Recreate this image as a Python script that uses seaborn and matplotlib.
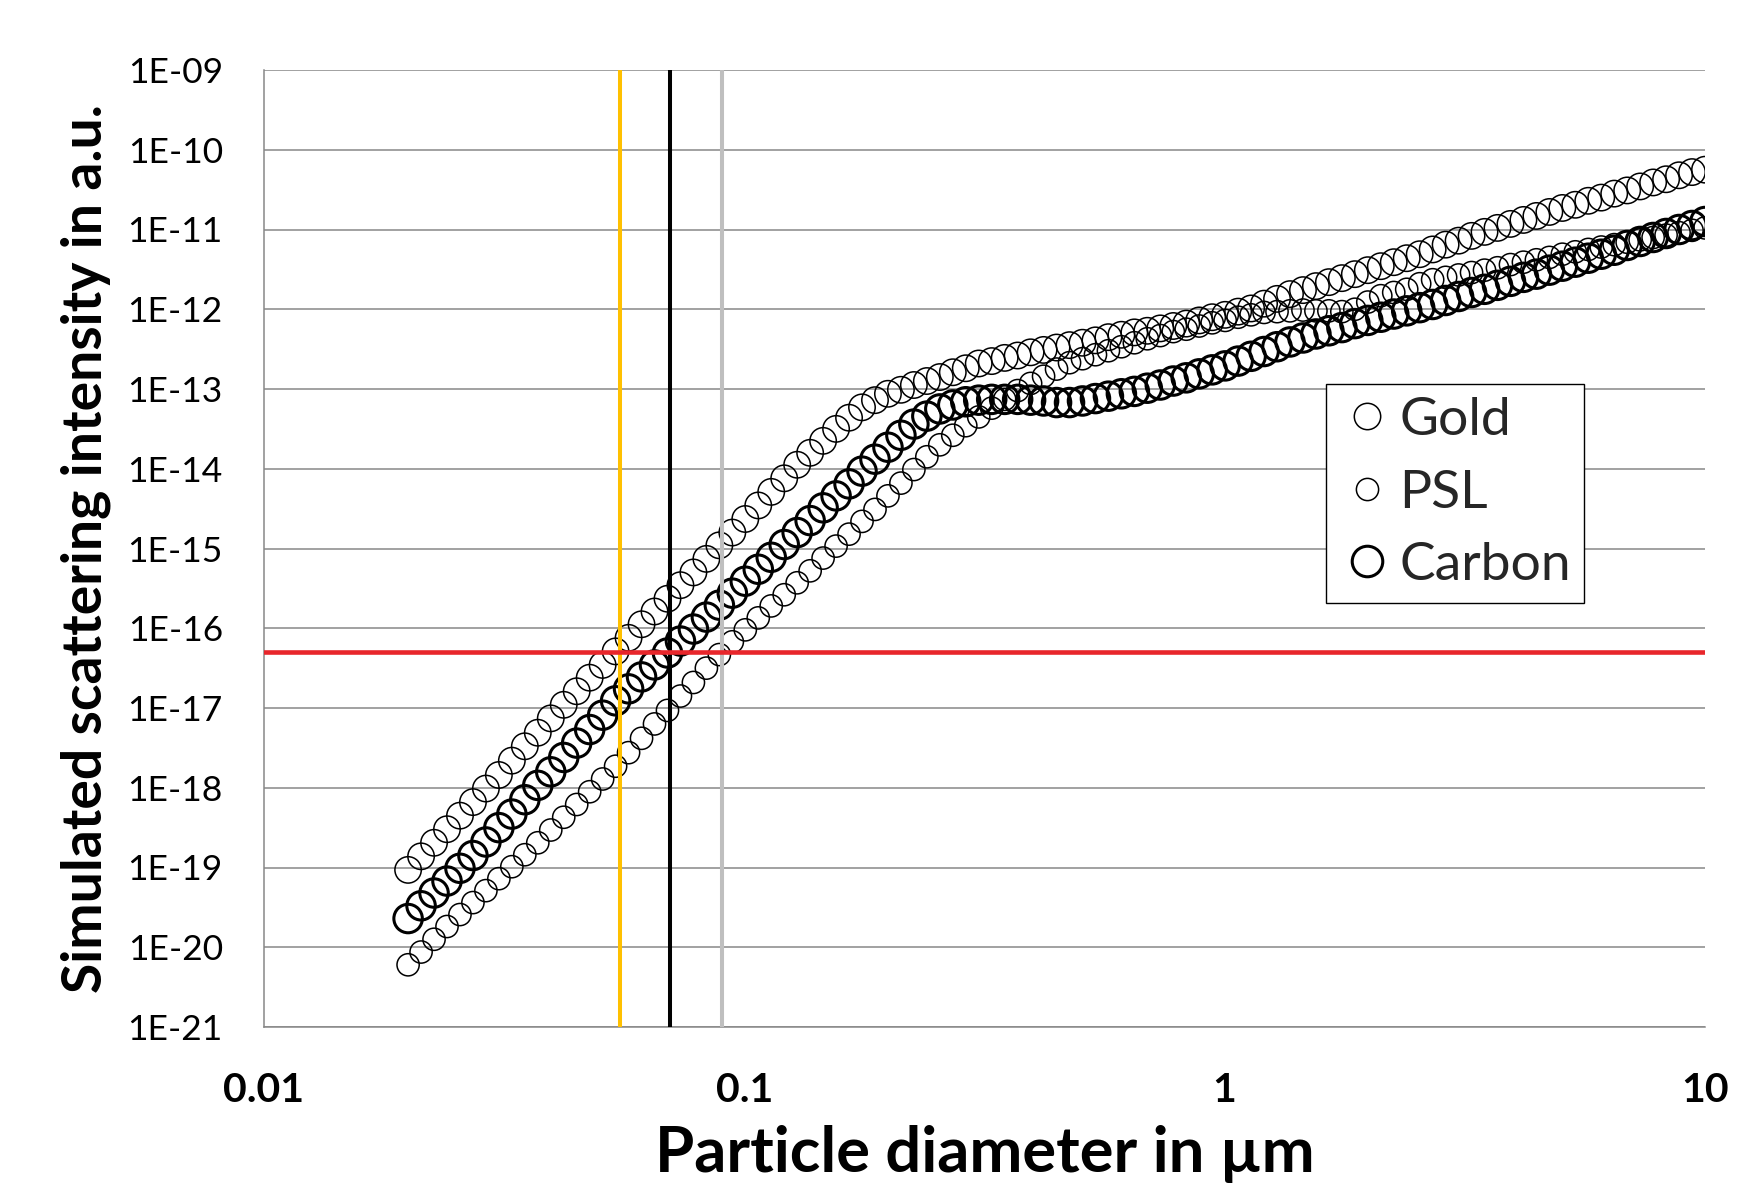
import numpy as np
import pandas as pd
import matplotlib
matplotlib.use("Agg")
import matplotlib.pyplot as plt
import seaborn as sns
from matplotlib.lines import Line2D
from matplotlib.ticker import FixedLocator, NullFormatter, NullLocator

# ---------------- data ----------------
log10_diameter_um = [
    -1.700, -1.673, -1.646, -1.619, -1.592, -1.565, -1.538, -1.511, -1.484, -1.457,
    -1.430, -1.403, -1.376, -1.349, -1.322, -1.295, -1.268, -1.241, -1.214, -1.187,
    -1.160, -1.133, -1.106, -1.079, -1.052, -1.025, -0.998, -0.971, -0.944, -0.917,
    -0.890, -0.863, -0.836, -0.809, -0.782, -0.755, -0.728, -0.701, -0.674, -0.647,
    -0.620, -0.593, -0.566, -0.539, -0.512, -0.485, -0.458, -0.431, -0.404, -0.377,
    -0.350, -0.323, -0.296, -0.269, -0.242, -0.215, -0.188, -0.161, -0.134, -0.107,
    -0.080, -0.053, -0.026, 0.001, 0.028, 0.055, 0.082, 0.109, 0.136, 0.163,
    0.190, 0.217, 0.244, 0.271, 0.298, 0.325, 0.352, 0.379, 0.406, 0.433,
    0.460, 0.487, 0.514, 0.541, 0.568, 0.595, 0.622, 0.649, 0.676, 0.703,
    0.730, 0.757, 0.784, 0.811, 0.838, 0.865, 0.892, 0.919, 0.946, 0.973, 1.000]

gold_log10_intensity = [
    -19.03, -18.86, -18.69, -18.52, -18.35, -18.18, -18.01, -17.84, -17.66, -17.48,
    -17.31, -17.13, -16.96, -16.79, -16.62, -16.46, -16.29, -16.12, -15.95, -15.79,
    -15.63, -15.46, -15.30, -15.13, -14.96, -14.80, -14.63, -14.46, -14.29, -14.12,
    -13.95, -13.80, -13.65, -13.50, -13.36, -13.23, -13.14, -13.06, -13.01, -12.95,
    -12.90, -12.85, -12.79, -12.74, -12.68, -12.65, -12.61, -12.58, -12.54, -12.51,
    -12.48, -12.45, -12.42, -12.39, -12.35, -12.32, -12.29, -12.27, -12.24, -12.21,
    -12.18, -12.14, -12.10, -12.07, -12.03, -11.99, -11.93, -11.87, -11.81, -11.76,
    -11.71, -11.66, -11.61, -11.56, -11.51, -11.46, -11.41, -11.36, -11.31, -11.25,
    -11.19, -11.14, -11.08, -11.03, -10.98, -10.93, -10.88, -10.83, -10.78, -10.73,
    -10.69, -10.64, -10.60, -10.55, -10.51, -10.46, -10.41, -10.37, -10.32, -10.28, -10.25]

psl_log10_intensity = [
    -20.22, -20.06, -19.90, -19.74, -19.59, -19.44, -19.29, -19.14, -18.99, -18.84,
    -18.69, -18.53, -18.37, -18.21, -18.05, -17.89, -17.73, -17.56, -17.38, -17.20,
    -17.03, -16.85, -16.68, -16.50, -16.33, -16.17, -16.02, -15.87, -15.72, -15.58,
    -15.43, -15.28, -15.12, -14.97, -14.82, -14.66, -14.51, -14.34, -14.18, -14.01,
    -13.85, -13.70, -13.58, -13.46, -13.35, -13.24, -13.13, -13.02, -12.93, -12.84,
    -12.75, -12.67, -12.62, -12.57, -12.52, -12.47, -12.42, -12.37, -12.33, -12.28,
    -12.25, -12.21, -12.17, -12.14, -12.10, -12.07, -12.04, -12.03, -12.02, -12.01,
    -12.02, -12.02, -12.03, -12.00, -11.91, -11.83, -11.79, -11.75, -11.68, -11.63,
    -11.60, -11.57, -11.54, -11.51, -11.48, -11.44, -11.41, -11.38, -11.35, -11.31,
    -11.28, -11.25, -11.22, -11.19, -11.16, -11.13, -11.10, -11.07, -11.04, -11.01, -10.98]

carbon_log10_intensity = [
    -19.64, -19.48, -19.32, -19.17, -19.01, -18.85, -18.68, -18.50, -18.33, -18.15,
    -17.97, -17.80, -17.62, -17.44, -17.27, -17.09, -16.91, -16.76, -16.61, -16.46,
    -16.31, -16.16, -16.01, -15.86, -15.71, -15.56, -15.41, -15.26, -15.11, -14.95,
    -14.80, -14.65, -14.49, -14.34, -14.19, -14.03, -13.88, -13.73, -13.58, -13.44,
    -13.34, -13.25, -13.20, -13.16, -13.14, -13.13, -13.13, -13.13, -13.14, -13.15,
    -13.17, -13.17, -13.15, -13.12, -13.09, -13.06, -13.03, -12.99, -12.95, -12.90,
    -12.86, -12.81, -12.76, -12.71, -12.65, -12.59, -12.53, -12.47, -12.41, -12.36,
    -12.31, -12.27, -12.23, -12.18, -12.14, -12.10, -12.06, -12.02, -11.98, -11.94,
    -11.89, -11.84, -11.79, -11.75, -11.70, -11.65, -11.60, -11.56, -11.51, -11.46,
    -11.41, -11.36, -11.31, -11.26, -11.20, -11.15, -11.10, -11.05, -11.00, -10.95, -10.90]

series_names = ["Gold", "PSL", "Carbon"]
y_tick_values = [1e-09, 1e-10, 1e-11, 1e-12, 1e-13, 1e-14, 1e-15, 1e-16,
                 1e-17, 1e-18, 1e-19, 1e-20, 1e-21]
y_tick_labels = ["1E-09", "1E-10", "1E-11", "1E-12", "1E-13", "1E-14", "1E-15",
                 "1E-16", "1E-17", "1E-18", "1E-19", "1E-20", "1E-21"]
x_tick_values = [0.01, 0.1, 1, 10]
x_tick_labels = ["0.01", "0.1", "1", "10"]
threshold_intensity = 5e-17
reference_diameters_um = [0.055, 0.07, 0.09]

# ---------------- build table ----------------
diam = 10.0 ** np.array(log10_diameter_um)
frames = []
for name, vals in zip(series_names,
                      [gold_log10_intensity, psl_log10_intensity, carbon_log10_intensity]):
    frames.append(pd.DataFrame({"diameter": diam,
                                "intensity": 10.0 ** np.array(vals),
                                "material": name}))
df = pd.concat(frames, ignore_index=True)

# ---------------- style ----------------
sns.set_theme(style="white")
plt.rcParams["font.family"] = ["Lato", "DejaVu Sans"]

GRID = "#878787"
fig = plt.figure(figsize=(17.43, 11.94), dpi=100)
ax = fig.add_axes([264 / 1743, 1 - 1027 / 1194, (1705 - 264) / 1743, (1027 - 70) / 1194])

marker_style = {
    "Gold": dict(s=19.0 ** 2, linewidth=1.1),
    "PSL": dict(s=16.0 ** 2, linewidth=1.1),
    "Carbon": dict(s=20.5 ** 2, linewidth=2.2),
}
for name in series_names:
    sub = df[df["material"] == name]
    sns.scatterplot(data=sub, x="diameter", y="intensity", ax=ax, marker="o",
                    facecolors="none", edgecolor="black", legend=False,
                    zorder=3, **marker_style[name])
for coll in ax.collections:
    coll.set_facecolor("none")
    coll.set_edgecolor("black")

ax.set_xscale("log")
ax.set_yscale("log")
ax.set_xlim(0.01, 10)
ax.set_ylim(1e-21, 1e-09)

# reference lines
for xv, col in zip(reference_diameters_um, ["#FFC000", "#000000", "#BFBFBF"]):
    ax.axvline(xv, color=col, lw=2.9, zorder=4)
ax.axhline(threshold_intensity, color="#E8262B", lw=3.3, zorder=4)

# ticks
ax.set_yticks(y_tick_values)
ax.set_yticklabels(y_tick_labels)
ax.yaxis.set_minor_locator(NullLocator())
ax.set_xticks(x_tick_values)
ax.set_xticklabels(x_tick_labels)
minor_x = [m * 10.0 ** e for e in (-2, -1, 0) for m in range(2, 10)]
ax.xaxis.set_minor_locator(FixedLocator(minor_x))
ax.xaxis.set_minor_formatter(NullFormatter())

ax.tick_params(axis="y", which="major", direction="out", length=8.6, width=1.1,
               color=GRID, pad=21, labelsize=25.5, labelcolor="black")
ax.tick_params(axis="x", which="major", direction="inout", length=18.7, width=1.1,
               color=GRID, pad=23, labelsize=29.5, labelcolor="black")
ax.tick_params(axis="x", which="minor", direction="inout", length=14.4, width=1.1,
               color=GRID)
for lab in ax.get_xticklabels():
    lab.set_fontweight("bold")

for side in ["top", "right"]:
    ax.spines[side].set_visible(False)
for side in ["left", "bottom"]:
    ax.spines[side].set_color(GRID)
    ax.spines[side].set_linewidth(1.1)

ax.yaxis.grid(True, which="major", color=GRID, lw=1.1)
ax.xaxis.grid(False)
ax.set_axisbelow(True)

ax.set_xlabel("Particle diameter in µm", fontsize=45.6, fontweight="bold", color="black")
ax.set_ylabel("Simulated scattering intensity in a.u.", fontsize=39.8, fontweight="bold",
              color="black")
ax.xaxis.set_label_coords(0.5, -0.1024)
ax.xaxis.label.set_va("top")
ax.yaxis.set_label_coords(-0.106, 0.5)

# legend
handles = [
    Line2D([], [], marker="o", ls="none", mfc="none", mec="black", ms=19, mew=1.1),
    Line2D([], [], marker="o", ls="none", mfc="none", mec="black", ms=16, mew=1.1),
    Line2D([], [], marker="o", ls="none", mfc="none", mec="black", ms=22, mew=2.2),
]
leg = ax.legend(handles, series_names, loc="upper left", bbox_to_anchor=(0.737, 0.6724),
                borderaxespad=0, fontsize=38.5, frameon=True, fancybox=False,
                edgecolor="black", framealpha=1, borderpad=0.25, labelspacing=0.48,
                handlelength=1.03, handletextpad=0.09)
leg.get_frame().set_linewidth(1.0)

fig.savefig("out.png", dpi=100, facecolor="white")
